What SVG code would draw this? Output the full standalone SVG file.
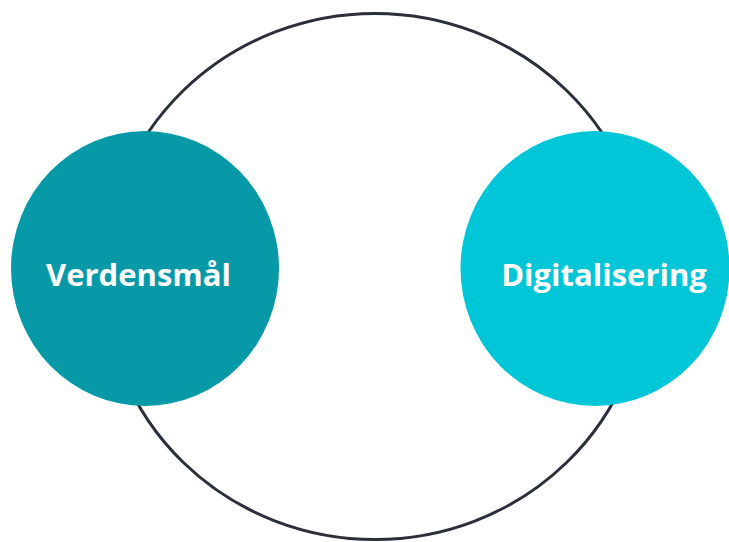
<svg xmlns="http://www.w3.org/2000/svg" width="729" height="542" viewBox="0 0 729 542">
<style>
.lbl{font-family:"Open Sans","Noto Sans","DejaVu Sans",sans-serif;font-weight:700;font-size:31px;fill:#ffffff;text-anchor:middle}
</style>
<rect width="729" height="542" fill="#ffffff"/>
<g id="connectors">
<ellipse id="ring" cx="375" cy="276.5" rx="271" ry="263" fill="none" stroke="#2b2f3a" stroke-width="3"/>
</g>
<g id="node-verdensmal">
<ellipse cx="145" cy="268.5" rx="134" ry="137.5" fill="#0899a9"/>
<text class="lbl" x="138.5" y="286">Verdensmål</text>
</g>
<g id="node-digitalisering">
<ellipse cx="595" cy="268.5" rx="134.5" ry="137.5" fill="#00c6d7"/>
<text class="lbl" x="604" y="286">Digitalisering</text>
</g>
</svg>
